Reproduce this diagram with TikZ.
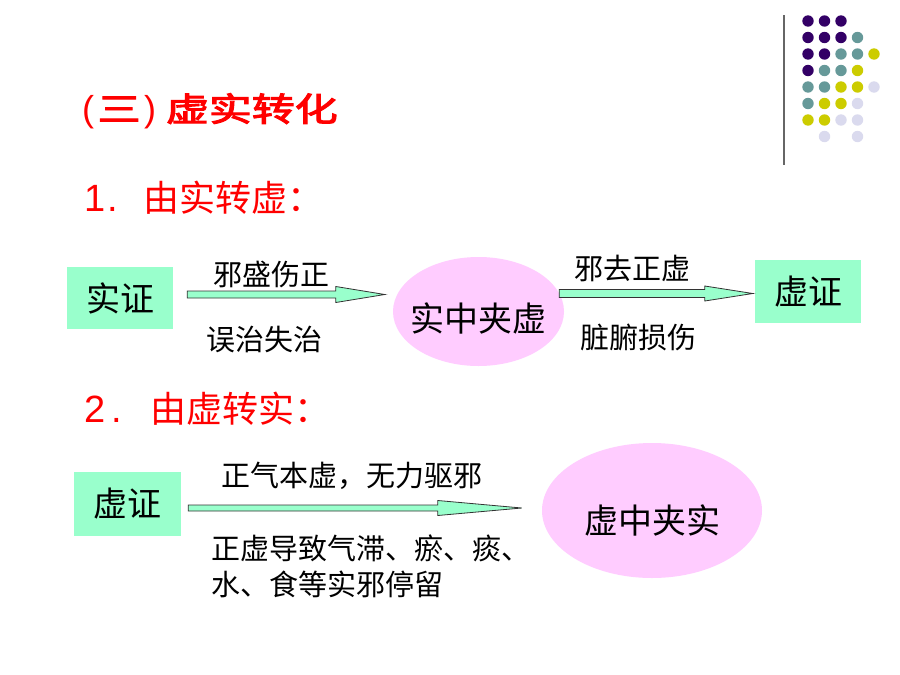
\documentclass[tikz,border=0pt]{standalone}
\usepackage{fontspec}
\usepackage{graphicx}
\setmainfont{Liberation Sans}
\newfontfamily\lat{Liberation Sans}
\newfontfamily\cjk{Noto Sans CJK SC}
\newfontfamily\cjkbold[FakeBold=3]{Noto Sans CJK SC}
\usetikzlibrary{calc,shapes.geometric}
\definecolor{boxg}{HTML}{99FFCC}
\definecolor{pinkel}{HTML}{FFCCFF}
\definecolor{dpurple}{HTML}{330066}
\definecolor{dteal}{HTML}{669999}
\definecolor{dyellow}{HTML}{CCCC00}
\definecolor{dlav}{HTML}{DADAEE}
\newcommand\barrow[5]{%
  \draw[barr] ($(#1)+(0,-#4)$) -- ($(#2)+(-#3,-#4)$) -- ($(#2)+(-#3,-#5)$) -- (#2)
    -- ($(#2)+(-#3,#5)$) -- ($(#2)+(-#3,#4)$) -- ($(#1)+(0,#4)$) -- cycle;}
\newcommand\digitfont{\lat\fontsize{38}{38}\selectfont}
\newcommand\headcjk{\cjk\fontsize{36}{36}\selectfont}
\newcommand\titlecjk[1]{\scalebox{1.3}[1]{\cjkbold\fontsize{33}{33}\selectfont #1}}
\begin{document}
\begin{tikzpicture}[x=1pt,y=-1pt,
  greenbox/.style={fill=boxg,draw=none,minimum width=#1,inner sep=0pt},
  pinkell/.style={ellipse,fill=pinkel,draw=none,inner sep=0pt},
  lbl/.style={font=\cjk\fontsize{29}{29}\selectfont,inner sep=0pt},
  big/.style={font=\cjk\fontsize{34}{34}\selectfont,inner sep=0pt},
  head/.style={text=red,inner sep=0pt,anchor=west},
  barr/.style={fill=boxg,draw=black!80,line width=0.8pt,line join=miter},
  dot/.style={circle,minimum size=11.4pt,inner sep=0pt,draw=none}]
\useasboundingbox[fill=white] (0,0) rectangle (900,675);

% decoration
\draw[gray!80!black,line width=1.5pt] (784,15) coordinate (vl1) -- (784,165) coordinate (vl2);
\foreach \r/\i/\cc in {0/0/dpurple,0/1/dpurple,0/2/dpurple,
  1/0/dpurple,1/1/dpurple,1/2/dpurple,1/3/dteal,
  2/0/dpurple,2/1/dpurple,2/2/dteal,2/3/dteal,2/4/dyellow,
  3/0/dpurple,3/1/dteal,3/2/dteal,3/3/dyellow,
  4/0/dteal,4/1/dteal,4/2/dyellow,4/3/dyellow,4/4/dlav,
  5/0/dteal,5/1/dyellow,5/2/dyellow,5/3/dlav,
  6/0/dyellow,6/1/dyellow,6/2/dlav,6/3/dlav,
  7/1/dlav,7/3/dlav}{
  \node[dot,fill=\cc] (d\r\i) at (808+16.5*\i, 21+16.5*\r) {};
}

% title
\node[anchor=west,inner sep=0pt,text=red] (title) at (82,111)
  {\lat\fontsize{36}{36}\selectfont(\hspace{3.5pt}\titlecjk{三}\hspace{3.5pt})\hspace{10pt}\titlecjk{虚实转化}};

% part 1
\node[head] (h1) at (84,197.5) {\digitfont 1\hspace{2pt}.\hspace{26pt}\headcjk 由实转虚：};
\node[greenbox=106pt,minimum height=62pt] (b1) at (120,298) {\raisebox{-7pt}{\cjk\fontsize{34}{34}\selectfont 实证}};
\node[pinkell,minimum width=171pt,minimum height=109pt] (e1) at (478.5,311.5) {};
\node[big] (e1t) at (478,318) {实中夹虚};
\node[greenbox=106pt,minimum height=63pt] (b2) at (808,291.5) {\raisebox{-8pt}{\cjk\fontsize{34}{34}\selectfont 虚证}};
\coordinate (a1s) at ($(b1.east)+(14,-3.5)$);
\coordinate (a1e) at ($(e1.west)+(-8,-17)$);
\barrow{a1s}{a1e}{49}{3.5}{8}
\coordinate (a2s) at ($(e1.east)+(-5,-18)$);
\coordinate (a2e) at ($(b2.west)+(-2,2)$);
\barrow{a2s}{a2e}{48}{4}{7.5}
\node[lbl] (l1) at (271,274) {邪盛伤正};
\node[lbl] (l2) at (264,340) {误治失治};
\node[lbl] (l3) at (632,268) {邪去正虚};
\node[lbl] (l4) at (638,337) {脏腑损伤};

% part 2
\node[head] (h2) at (84,408.5) {\digitfont 2\hspace{6.5pt}.\hspace{28pt}\headcjk 由虚转实：};
\node[greenbox=107pt,minimum height=64pt] (b3) at (127.5,504) {\raisebox{-8pt}{\cjk\fontsize{34}{34}\selectfont 虚证}};
\node[pinkell,minimum width=220pt,minimum height=135pt] (e2) at (652,510.5) {};
\node[big] (e2t) at (652,520) {虚中夹实};
\coordinate (a3s) at ($(b3.east)+(7,4)$);
\coordinate (a3e) at ($(e2.west)+(-20,-2.5)$);
\barrow{a3s}{a3e}{84}{3}{7.5}
\node[lbl] (l5) at (352,476) {正气本虚，无力驱邪};
\node[lbl,anchor=west] (l6) at (211,548.5) {正虚导致气滞、瘀、痰、};
\node[lbl,anchor=west] (l7) at (211,584) {水、食等实邪停留};
\end{tikzpicture}
\end{document}
